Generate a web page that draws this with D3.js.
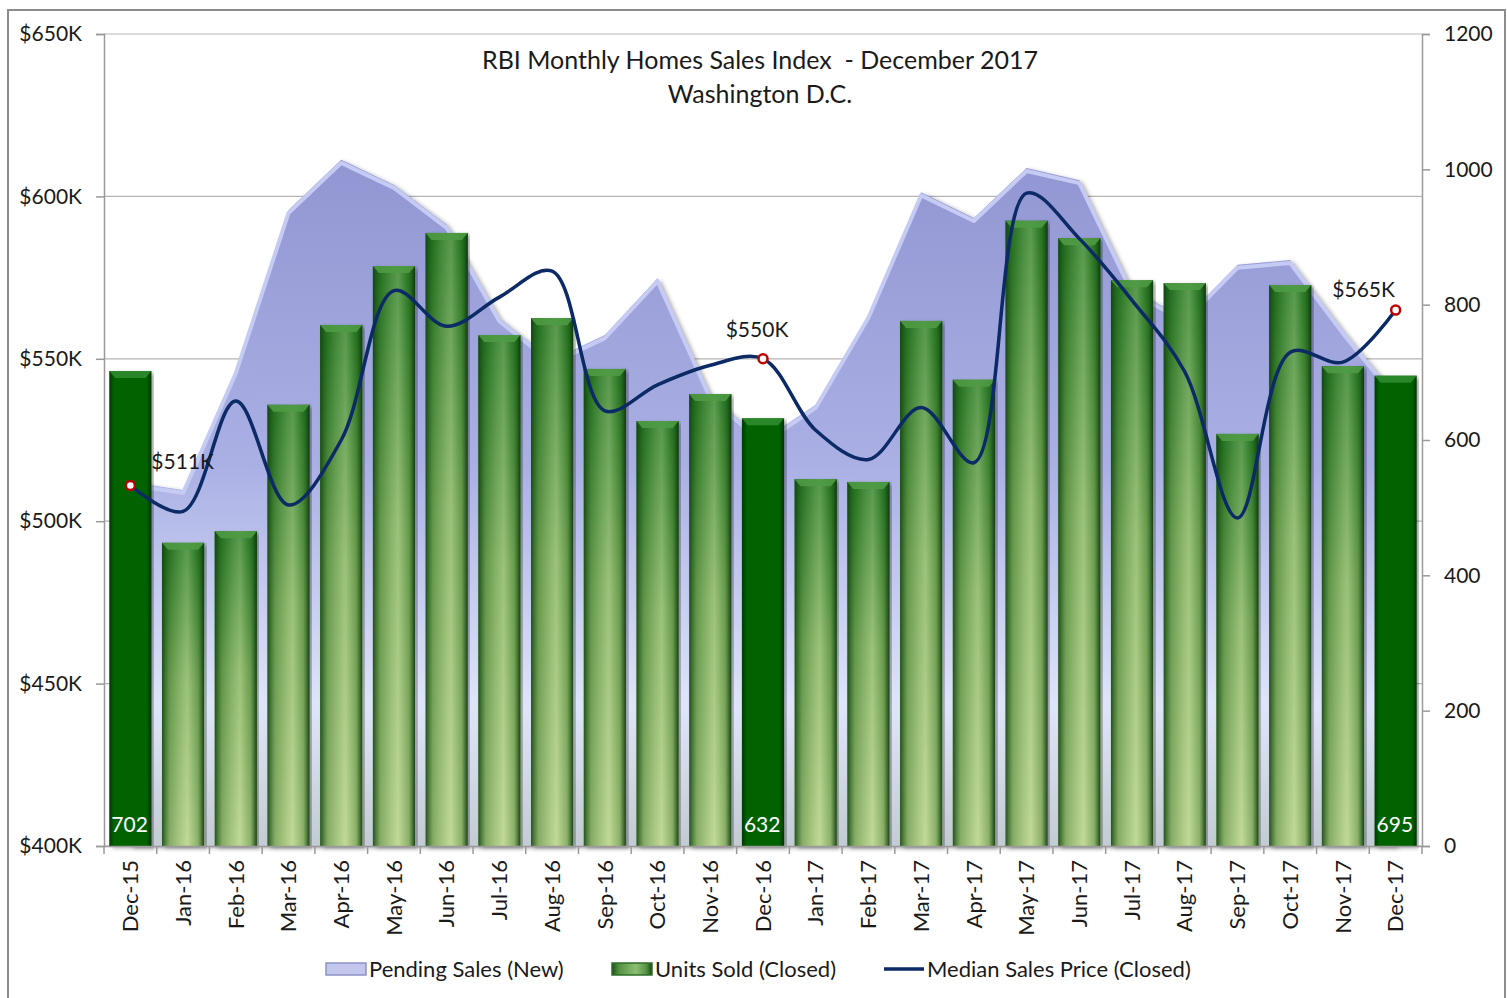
<!DOCTYPE html>
<html>
<head>
<meta charset="utf-8">
<script src="https://cdn.jsdelivr.net/npm/d3@7"></script>
<style>
  body { margin: 0; background: #fff; }
  svg text { font-family: Lato, "Open Sans", sans-serif; fill: #1a1a1a; }
</style>
</head>
<body>
<div id="chart"></div>
<script>
// --- data ---
const months = ["Dec-15","Jan-16","Feb-16","Mar-16","Apr-16","May-16","Jun-16","Jul-16","Aug-16","Sep-16","Oct-16","Nov-16","Dec-16",
                "Jan-17","Feb-17","Mar-17","Apr-17","May-17","Jun-17","Jul-17","Aug-17","Sep-17","Oct-17","Nov-17","Dec-17"];
const pendingSales = [538,526,703,940,1014,977,918,780,718,755,839,666,600,652,785,966,928,1002,984,822,780,859,866,762,666];
const unitsSold = [702,448,465,652,770,857,906,755,780,705,628,668,632,542,538,776,689,924,898,836,832,609,829,709,695];
const medianPrice = [511,503,537,505,525,571,560,569,577,534,542,548,550,528,519,535,518,601,587,568,546,501,552,549,565];
const highlighted = ["Dec-15","Dec-16","Dec-17"];
const priceTicks = [400,450,500,550,600,650];
const unitTicks = [0,200,400,600,800,1000,1200];
const legendItems = ["Pending Sales (New)","Units Sold (Closed)","Median Sales Price (Closed)"];

const W = 1507, H = 998;
const m = {left: 104, right: 1422, top: 34, bottom: 846};

const svg = d3.select("#chart").append("svg").attr("width", W).attr("height", H);
const defs = svg.append("defs");

// outer frame
svg.append("rect").attr("x", 8).attr("y", 10).attr("width", 1497).attr("height", 1000)
  .attr("fill", "none").attr("stroke", "#8c8c8c").attr("stroke-width", 2);

const x = d3.scaleBand().domain(months).range([m.left, m.right]).paddingInner(0.2).paddingOuter(0.1);
const yL = d3.scaleLinear().domain([400, 650]).range([m.bottom, m.top]);
const yR = d3.scaleLinear().domain([0, 1200]).range([m.bottom, m.top]);
const cx = d => x(d) + x.bandwidth() / 2;

// gradients
const areaGrad = defs.append("linearGradient").attr("id", "areaGrad").attr("gradientUnits", "userSpaceOnUse")
  .attr("x1", 0).attr("x2", 0).attr("y1", m.top + 120).attr("y2", m.bottom);
areaGrad.append("stop").attr("offset", "0%").attr("stop-color", "#9195d2");
areaGrad.append("stop").attr("offset", "45%").attr("stop-color", "#aab0e4");
areaGrad.append("stop").attr("offset", "80%").attr("stop-color", "#dfe5f9");
areaGrad.append("stop").attr("offset", "100%").attr("stop-color", "#c3cbd3");

const barV = defs.append("linearGradient").attr("id", "barV").attr("x1", 0).attr("x2", 0).attr("y1", 0).attr("y2", 1);
barV.append("stop").attr("offset", "0%").attr("stop-color", "#267a22");
barV.append("stop").attr("offset", "45%").attr("stop-color", "#7fb05c");
barV.append("stop").attr("offset", "100%").attr("stop-color", "#b2cf84");

const barH = defs.append("linearGradient").attr("id", "barH").attr("x1", 0).attr("x2", 1).attr("y1", 0).attr("y2", 0);
barH.append("stop").attr("offset", "0%").attr("stop-color", "#0d3d0d").attr("stop-opacity", 0.85);
barH.append("stop").attr("offset", "18%").attr("stop-color", "#1f5a1c").attr("stop-opacity", 0.3);
barH.append("stop").attr("offset", "60%").attr("stop-color", "#eef8d0").attr("stop-opacity", 0.25);
barH.append("stop").attr("offset", "85%").attr("stop-color", "#1f5a1c").attr("stop-opacity", 0.25);
barH.append("stop").attr("offset", "100%").attr("stop-color", "#0a300a").attr("stop-opacity", 0.9);

const darkH = defs.append("linearGradient").attr("id", "darkH").attr("x1", 0).attr("x2", 1).attr("y1", 0).attr("y2", 0);
darkH.append("stop").attr("offset", "0%").attr("stop-color", "#003a00");
darkH.append("stop").attr("offset", "12%").attr("stop-color", "#006400");
darkH.append("stop").attr("offset", "88%").attr("stop-color", "#006400");
darkH.append("stop").attr("offset", "100%").attr("stop-color", "#003300");

const shadow = defs.append("filter").attr("id", "shadow").attr("x", "-5%").attr("y", "-5%").attr("width", "110%").attr("height", "110%");
shadow.append("feDropShadow").attr("dx", 3).attr("dy", 2).attr("stdDeviation", 2).attr("flood-color", "#000").attr("flood-opacity", 0.35);

// gridlines (left axis)
svg.append("g").selectAll("line").data(priceTicks).join("line")
  .attr("x1", m.left).attr("x2", m.right).attr("y1", d => yL(d)).attr("y2", d => yL(d))
  .attr("stroke", "#b5b5b5").attr("stroke-width", 1.2);

// pending sales area
const area = d3.area().x((d, i) => cx(months[i])).y0(m.bottom).y1(d => yR(d));
const line0 = d3.line().x((d, i) => cx(months[i])).y(d => yR(d));
svg.append("path").datum(pendingSales).attr("d", area)
  .attr("fill", "url(#areaGrad)").attr("filter", "url(#shadow)");
svg.append("path").datum(pendingSales).attr("d", line0)
  .attr("fill", "none").attr("stroke", "#c6cbf3").attr("stroke-width", 4).attr("stroke-linejoin", "round")
  .attr("transform", "translate(0,3)");

// bars
const bars = svg.append("g").selectAll("g").data(months).join("g");
bars.append("rect")
  .attr("x", d => x(d)).attr("width", x.bandwidth())
  .attr("y", (d, i) => yR(unitsSold[i])).attr("height", (d, i) => m.bottom - yR(unitsSold[i]))
  .attr("fill", d => highlighted.includes(d) ? "url(#darkH)" : "url(#barV)")
  .attr("filter", "url(#shadow)");
bars.filter(d => !highlighted.includes(d)).append("rect")
  .attr("x", d => x(d)).attr("width", x.bandwidth())
  .attr("y", d => yR(unitsSold[months.indexOf(d)])).attr("height", d => m.bottom - yR(unitsSold[months.indexOf(d)]))
  .attr("fill", "url(#barH)");
// bevel on bar tops
bars.append("path")
  .attr("d", d => {
    const i = months.indexOf(d), x0 = x(d), x1 = x0 + x.bandwidth(), t = yR(unitsSold[i]);
    return `M${x0},${t}L${x1},${t}L${x1 - 6},${t + 7}L${x0 + 6},${t + 7}Z`;
  })
  .attr("fill", d => highlighted.includes(d) ? "#2d8a2d" : "#4f9a44").attr("opacity", 0.9);

// value labels inside highlighted bars
bars.filter(d => highlighted.includes(d)).append("text")
  .attr("x", d => x(d) + 2).attr("y", m.bottom - 14)
  .attr("font-size", 21).style("fill", "#fff")
  .text(d => unitsSold[months.indexOf(d)]);

// median price line
const priceLine = d3.line().x((d, i) => cx(months[i])).y(d => yL(d)).curve(d3.curveCatmullRom.alpha(0.5));
svg.append("path").datum(medianPrice).attr("d", priceLine)
  .attr("fill", "none").attr("stroke", "#0b2a66").attr("stroke-width", 3.5);

const marked = highlighted.map(d => ({m: d, v: medianPrice[months.indexOf(d)]}));
const labelDx = [21, -6, -32], labelDy = [-16, -22, -13];
svg.append("g").selectAll("circle").data(marked).join("circle")
  .attr("cx", d => cx(d.m)).attr("cy", d => yL(d.v)).attr("r", 4.5)
  .attr("fill", "#fff").attr("stroke", "#c00000").attr("stroke-width", 2.5);
svg.append("g").selectAll("text").data(marked).join("text")
  .attr("x", (d, i) => cx(d.m) + labelDx[i])
  .attr("y", (d, i) => yL(d.v) + labelDy[i])
  .attr("text-anchor", (d, i) => i === 0 ? "start" : "middle")
  .attr("font-size", 21)
  .text(d => `$${d.v}K`);

// axes
const axL = svg.append("g").attr("transform", `translate(${m.left},0)`)
  .call(d3.axisLeft(yL).tickValues(priceTicks).tickSize(8).tickPadding(14).tickFormat(d => `$${d}K`));
const axR = svg.append("g").attr("transform", `translate(${m.right},0)`)
  .call(d3.axisRight(yR).tickValues(unitTicks).tickSize(8).tickPadding(14).tickFormat(d3.format("d")));
const axB = svg.append("g").attr("transform", `translate(0,${m.bottom})`)
  .call(d3.axisBottom(x).tickSize(0).tickPadding(0));
[axL, axR].forEach(a => {
  a.select(".domain").attr("stroke", "#9a9a9a").attr("stroke-width", 1.5);
  a.selectAll(".tick line").attr("stroke", "#9a9a9a").attr("stroke-width", 1.5);
  a.selectAll(".tick text").attr("font-size", 21).attr("font-family", "Lato, sans-serif").style("fill", "#1a1a1a");
});
axB.select(".domain").attr("stroke", "#9a9a9a").attr("stroke-width", 1.5);
axB.selectAll(".tick text").attr("font-size", 22).attr("font-family", "Lato, sans-serif").style("fill", "#1a1a1a")
  .attr("transform", "rotate(-90)").attr("text-anchor", "end").attr("dx", "-14").attr("dy", "0.35em").attr("y", 0);
// category separators
svg.append("g").selectAll("line").data(d3.range(months.length + 1)).join("line")
  .attr("x1", i => m.left + i * x.step()).attr("x2", i => m.left + i * x.step())
  .attr("y1", m.bottom).attr("y2", m.bottom + 8).attr("stroke", "#9a9a9a").attr("stroke-width", 1.5);

// title
svg.append("text").attr("x", 760).attr("y", 69).attr("text-anchor", "middle").attr("font-size", 25)
  .attr("xml:space", "preserve").text("RBI Monthly Homes Sales Index  - December 2017");
svg.append("text").attr("x", 760).attr("y", 103).attr("text-anchor", "middle").attr("font-size", 25)
  .text("Washington D.C.");

// legend
const lg = svg.append("g").attr("transform", "translate(0,969)");
const lx = [326, 612, 884];
lg.append("rect").attr("x", lx[0]).attr("y", -6).attr("width", 40).attr("height", 12)
  .attr("fill", "#c3c7ee").attr("stroke", "#8d92c6").attr("stroke-width", 1.5);
lg.append("rect").attr("x", lx[1]).attr("y", -6).attr("width", 40).attr("height", 12).attr("fill", "#6aaa52");
lg.append("rect").attr("x", lx[1]).attr("y", -6).attr("width", 40).attr("height", 12)
  .attr("fill", "url(#barH)").attr("stroke", "#2f6e2a").attr("stroke-width", 1.5);
lg.append("line").attr("x1", lx[2]).attr("x2", lx[2] + 40).attr("y1", 0).attr("y2", 0)
  .attr("stroke", "#0b2a66").attr("stroke-width", 3.5);
lg.selectAll("text.lbl").data(legendItems).join("text").attr("class", "lbl")
  .attr("x", (d, i) => lx[i] + 43).attr("y", 8).attr("font-size", 22).text(d => d);
</script>
</body>
</html>
